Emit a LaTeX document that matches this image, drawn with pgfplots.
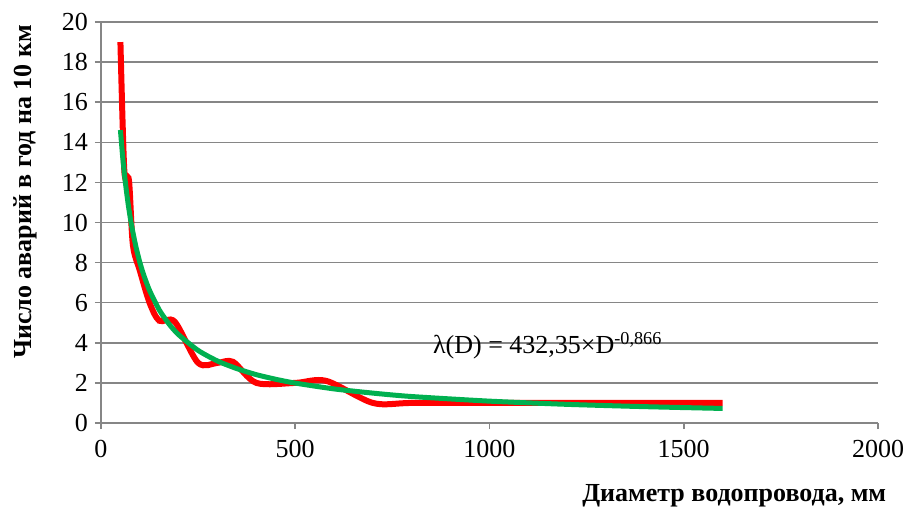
\documentclass[border=0pt]{standalone}
\usepackage{fontspec}
\setmainfont{Liberation Serif}
\usepackage{pgfplots}
\pgfplotsset{compat=1.18}
\definecolor{gridgray}{RGB}{134,134,134}
\definecolor{exred}{RGB}{255,0,0}
\definecolor{exgreen}{RGB}{0,176,80}
\begin{document}
\begin{tikzpicture}
\path[use as bounding box] (0,0) rectangle (453pt,255pt);
\begin{axis}[
  at={(50.5pt,43.5pt)}, anchor=south west,
  scale only axis, width=388.5pt, height=200.5pt,
  xmin=0, xmax=2000, ymin=0, ymax=20,
  xtick={0,500,1000,1500,2000},
  ytick={0,2,...,20},
  axis lines=left,
  axis line style={-, draw=gridgray, line width=0.75pt},
  ymajorgrids, grid style={gridgray, line width=0.75pt},
  major tick style={gridgray, line width=0.75pt},
  major tick length=3pt,
  tick align=outside,
  font=\fontsize{13}{15}\selectfont,
  tick label style={font=\fontsize{13}{15}\selectfont},
  /pgf/number format/assume math mode=true,
  /pgf/number format/1000 sep={},
  xticklabel style={yshift=-2pt},
  ylabel={\bfseries Число аварий в год на 10 км},
  xlabel={\bfseries Диаметр водопровода, мм},
  ylabel style={at={(axis description cs:-0.0978,0.576)}, anchor=center, rotate=0},
  xlabel style={at={(axis description cs:0.815,-0.182)}, anchor=center},
  clip=false,
]
\addplot[exred, line width=3pt, smooth, tension=0.5] coordinates {
(50,19) (60,12.6) (72,12.1) (82,8.9) (100,7.6) (125,6.0) (150,5.1) (190,5.05) (250,3.0) (300,3.0) (340,3.05) (400,2.0) (500,2.0) (580,2.1) (700,1.0) (800,1.0) (1000,1.0) (1200,1.0) (1400,1.0) (1600,1.0)
};
\addplot[exgreen, line width=2.5pt, smooth, tension=0.4] coordinates {
(50,14.61) (55,13.45) (60,12.47) (65,11.64) (70,10.91) (75,10.28) (80,9.72) (90,8.78) (100,8.01) (110,7.38) (125,6.61) (150,5.64) (175,4.94) (200,4.40) (250,3.62) (300,3.09) (350,2.71) (400,2.41) (450,2.18) (500,1.99) (600,1.70) (700,1.49) (800,1.32) (1000,1.09) (1200,0.93) (1400,0.815) (1600,0.726)
};
\node[font=\fontsize{13}{15}\selectfont, anchor=center] at (axis cs:1150,3.85) {λ(D) = 432,35×D\textsuperscript{-0,866}};
\end{axis}
\end{tikzpicture}
\end{document}
